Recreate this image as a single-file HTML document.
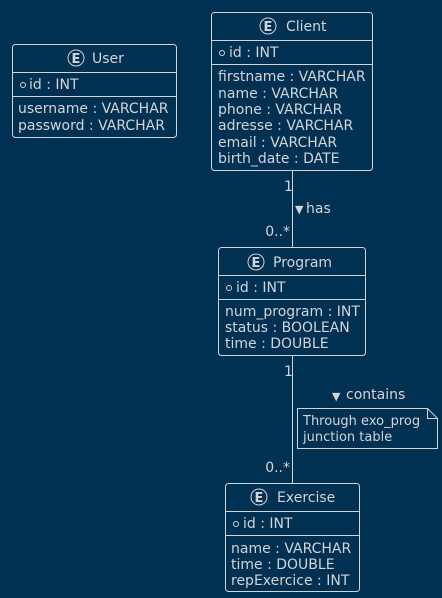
<!DOCTYPE html>
<html><head><meta charset="utf-8"><style>
html,body{margin:0;padding:0;background:#003153;}
svg{display:block}
text{font-family:"DejaVu Sans","Liberation Sans",sans-serif;font-size:14px;fill:#d4d4d4}
.b{fill:none;stroke:#d4d4d4;stroke-width:1}
.e{font-weight:bold;font-size:13px}
</style></head><body>
<svg width="442" height="598" viewBox="0 0 442 598" xmlns="http://www.w3.org/2000/svg">
<rect width="442" height="598" fill="#003153"/>
<!-- User -->
<rect class="b" x="12.5" y="44.5" width="164" height="93" rx="3"/>
<line class="b" x1="12.5" y1="72.5" x2="176.5" y2="72.5"/>
<line class="b" x1="12.5" y1="96.5" x2="176.5" y2="96.5"/>
<circle class="b" cx="76" cy="58" r="8" stroke-width="1.5"/>
<text x="71.5" y="63" class="e">E</text>
<text x="92" y="63">User</text>
<circle class="b" cx="23" cy="85" r="2.5"/>
<text x="29" y="89">id : INT</text>
<text x="18" y="113">username : VARCHAR</text>
<text x="18" y="130">password : VARCHAR</text>
<!-- Client -->
<rect class="b" x="211.5" y="12.5" width="161" height="158" rx="3"/>
<line class="b" x1="211.5" y1="40.5" x2="372.5" y2="40.5"/>
<line class="b" x1="211.5" y1="64.5" x2="372.5" y2="64.5"/>
<circle class="b" cx="268" cy="26" r="8" stroke-width="1.5"/>
<text x="263.5" y="31" class="e">E</text>
<text x="286" y="31">Client</text>
<circle class="b" cx="222" cy="53" r="2.5"/>
<text x="229" y="57">id : INT</text>
<text x="218" y="81">firstname : VARCHAR</text>
<text x="218" y="98">name : VARCHAR</text>
<text x="218" y="114">phone : VARCHAR</text>
<text x="218" y="130">adresse : VARCHAR</text>
<text x="218" y="147">email : VARCHAR</text>
<text x="218" y="163">birth_date : DATE</text>
<!-- connector client-program -->
<line class="b" x1="292.5" y1="170" x2="292.5" y2="247"/>
<text x="284" y="191">1</text>
<text x="295" y="213" style="font-size:11px">▼</text>
<text x="306" y="213">has</text>
<text x="290" y="236" text-anchor="end">0..*</text>
<!-- Program -->
<rect class="b" x="218.5" y="247.5" width="147" height="108" rx="3"/>
<line class="b" x1="218.5" y1="275.5" x2="365.5" y2="275.5"/>
<line class="b" x1="218.5" y1="299.5" x2="365.5" y2="299.5"/>
<circle class="b" cx="256" cy="262" r="8" stroke-width="1.5"/>
<text x="251.5" y="267" class="e">E</text>
<text x="273" y="267">Program</text>
<circle class="b" cx="229" cy="288" r="2.5"/>
<text x="236" y="292">id : INT</text>
<text x="225" y="316">num_program : INT</text>
<text x="225" y="332">status : BOOLEAN</text>
<text x="225" y="348">time : DOUBLE</text>
<!-- connector program-exercise -->
<line class="b" x1="292.5" y1="356" x2="292.5" y2="484"/>
<text x="284" y="376">1</text>
<text x="332" y="400" style="font-size:11px">▼</text>
<text x="346" y="399">contains</text>
<text x="290" y="472" text-anchor="end">0..*</text>
<path class="b" d="M297.5 408.5 H427.5 L437.5 418.5 V448.5 H297.5 Z M427.5 408.5 V418.5 H437.5"/>
<text x="303" y="425" style="font-size:13px">Through exo_prog</text>
<text x="303" y="441" style="font-size:13px">junction table</text>
<!-- Exercise -->
<rect class="b" x="225.5" y="483.5" width="134" height="108" rx="3"/>
<line class="b" x1="225.5" y1="511.5" x2="359.5" y2="511.5"/>
<line class="b" x1="225.5" y1="535.5" x2="359.5" y2="535.5"/>
<circle class="b" cx="259" cy="497" r="8" stroke-width="1.5"/>
<text x="254.5" y="502" class="e">E</text>
<text x="277" y="502">Exercise</text>
<circle class="b" cx="236" cy="524" r="2.5"/>
<text x="243" y="528">id : INT</text>
<text x="231" y="553">name : VARCHAR</text>
<text x="231" y="569">time : DOUBLE</text>
<text x="231" y="585">repExercice : INT</text>
</svg>
</body></html>
